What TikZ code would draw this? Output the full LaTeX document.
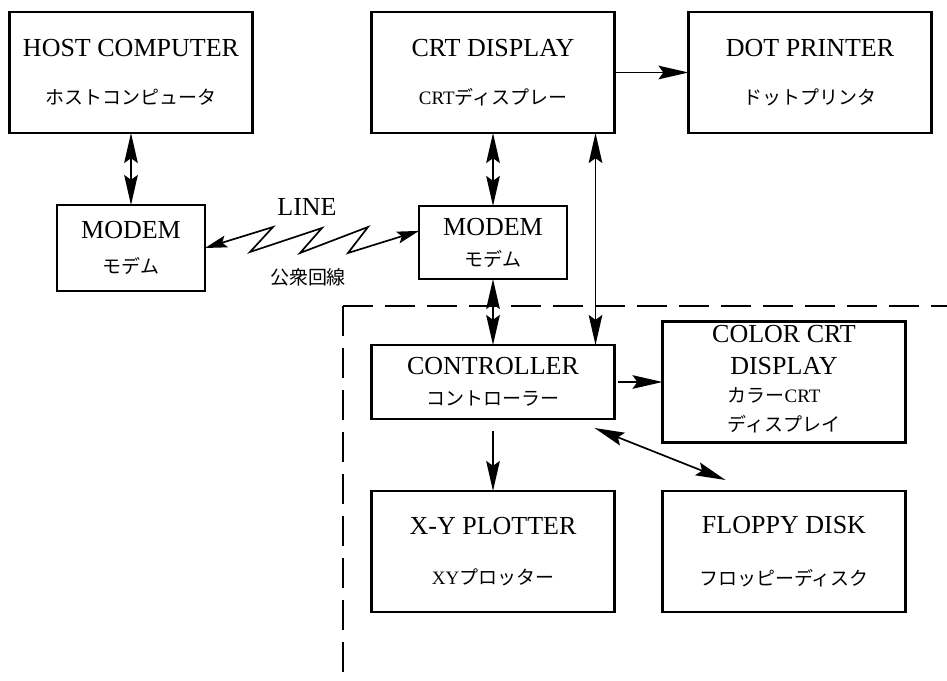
\documentclass[tikz,border=0pt]{standalone}
\usepackage{fontspec}
\setmainfont{Liberation Serif}
\newfontfamily\jpfont{Noto Sans CJK JP}
\newcommand{\kanasize}{\fontsize{13.5}{16}\selectfont}
\usetikzlibrary{arrows.meta,positioning}

\begin{document}
\begin{tikzpicture}[
  unit/.style={draw, line width=1.5pt, outer sep=0pt, inner sep=2pt, align=center, font=\fontsize{18.5}{23}\selectfont},
  wide/.style={unit, minimum width=6.075cm, minimum height=3.025cm},
  modembox/.style={unit, minimum width=3.7cm, minimum height=1.825cm},
  one/.style={-{Stealth[length=7.5mm, width=3.4mm, inset=1.2mm]}, line width=1.2pt},
  both/.style={{Stealth[length=7.5mm, width=3.4mm, inset=1.2mm]}-{Stealth[length=7.5mm, width=3.4mm, inset=1.2mm]}, line width=1.2pt},
  zone/.style={line width=1.7pt, dash pattern=on 0.75cm off 0.3cm}
]
\path[use as bounding box] (0,0) rectangle (23.675,-17);

\node[wide] (host) at (3.275,-1.8125) {HOST COMPUTER\\[11pt]{\kanasize\jpfont ホストコンピュータ}};
\node[modembox, minimum height=2.15cm, below=1.8cm of host] (modemL) {MODEM\\[2pt]{\kanasize\jpfont モデム}};
\node[wide, right=2.975cm of host] (crt) {CRT DISPLAY\\[11pt]{\kanasize CRT\jpfont ディスプレー}};
\node[wide, right=1.85cm of crt] (dot) {DOT PRINTER\\[11pt]{\kanasize\jpfont ドットプリンタ}};
\node[modembox, below=1.825cm of crt] (modemR) {MODEM\\[-1pt]{\kanasize\jpfont モデム}};
\node[wide, minimum height=1.85cm, below=1.65cm of modemR] (ctrl) {CONTROLLER\\[-1pt]{\kanasize\jpfont コントローラー}};
\node[wide, right=1.2cm of ctrl] (color) {COLOR CRT\\DISPLAY\\[-3.2pt]{\kanasize\begin{tabular}[t]{@{}l@{}}{\jpfont カラー}CRT\\[4.5pt]{\jpfont ディスプレイ}\end{tabular}}};
\node[wide, below=1.8cm of ctrl] (xy) {X-Y PLOTTER\\[12.5pt]{\kanasize XY\jpfont プロッター}};
\node[wide, right=1.2cm of xy] (floppy) {FLOPPY DISK\\[14.5pt]{\kanasize\jpfont フロッピーディスク}};

\node[font=\fontsize{18.5}{23}\selectfont] (linelbl) at (7.675,-5.175) {LINE};
\node[font=\kanasize\jpfont] (kosen) at (7.7,-6.925) {公衆回線};

% terminal side boundary
\coordinate (cnr) at (8.575,-7.65);
\coordinate (cnrE) at (23.675,-7.65);
\coordinate (cnrS) at (8.575,-17);
\draw[zone] (cnr) -- (cnrE);
\draw[zone] (cnr) -- (cnrS);

\draw[both] (host) -- (modemL);
\draw[both] (crt) -- (modemR);
\draw[one] (crt) -- (dot);
\draw[both] (modemR) -- (ctrl);
\draw[both] ([xshift=-0.475cm]crt.south east) -- ([xshift=-0.475cm]ctrl.north east);
\draw[one] ([xshift=0.075cm]ctrl.east) -- (color.west);
\draw[one] ([yshift=-0.3cm]ctrl.south) -- (xy.north);
\draw[both] ([shift={(-0.5,-0.225)}]ctrl.south east) -- ([shift={(1.575,0.275)}]floppy.north west);
% public line
\draw[both, {Stealth[length=5.5mm, width=3mm, inset=1mm]}-{Stealth[length=5.5mm, width=3mm, inset=1mm]}] (modemL.east) -- ++(1.7,0.525) -- ++(-0.575,-0.625) -- ++(1.8,0.6) -- ++(-0.55,-0.625) -- ++(1.7,0.65) -- ++(-0.5,-0.65) -- ([yshift=0.29cm]modemR.west);
\end{tikzpicture}
\end{document}
